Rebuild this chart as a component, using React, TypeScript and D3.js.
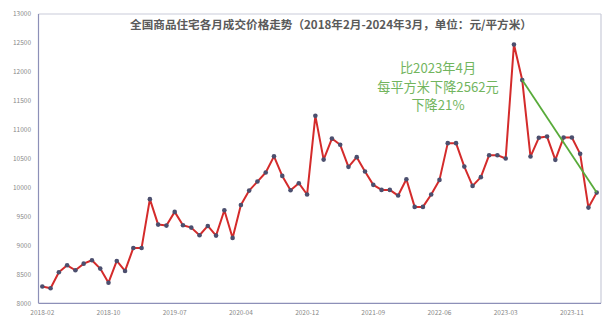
import React from "react";
import * as d3 from "d3";

const months: string[] = (() => {
  const out: string[] = [];
  for (let y = 2018; y <= 2024; y++) {
    for (let m = 2; m <= 12; m++) {
      if (y === 2024 && m > 3) break;
      out.push(`${y}-${String(m).padStart(2, "0")}`);
    }
  }
  return out;
})();

const prices: number[] = [
  8290, 8260, 8536, 8657, 8571, 8685, 8744, 8600, 8356, 8732, 8559,
  8957, 8957, 9800, 9360, 9343, 9580, 9350, 9308, 9176, 9337, 9170,
  9609, 9130, 9700, 9948, 10104, 10260, 10540, 10202, 9955, 10076, 9880,
  11240, 10484, 10848, 10739, 10358, 10526, 10277, 10047, 9960, 9960,
  9862, 10145, 9666, 9666, 9880, 10133, 10768, 10768, 10363, 10029,
  10180, 10560, 10560, 10502, 12474, 11858, 10536, 10860, 10882, 10479,
  10865, 10865, 10583, 9654, 9913,
];

const yTicks: number[] = [8000, 8500, 9000, 9500, 10000, 10500, 11000, 11500, 12000, 12500, 13000];
const xTickIdx: number[] = [0, 8, 16, 24, 32, 40, 48, 56, 64];

const title = "全国商品住宅各月成交价格走势（2018年2月-2024年3月，单位：元/平方米）";
const noteLines = ["比2023年4月", "每平方米下降2562元", "下降21%"];
const trendFrom = 58;
const trendTo = 67;

export default function App() {
  const W = 613, H = 328;
  const left = 38.5, right = 601, top = 14, bottom = 303.3;
  const x = d3.scaleLinear().domain([0, prices.length - 1]).range([42.3, 596.7]);
  const y = d3.scaleLinear().domain([8000, 13000]).range([bottom, top]);
  const line = d3.line<number>().x((_, i) => x(i)).y((d) => y(d));
  const font = "'Noto Sans CJK SC', 'Noto Sans', sans-serif";

  return (
    <svg width={W} height={H} style={{ position: "absolute", left: 0, top: 0, background: "#fff" }}>
      <rect x={0} y={0} width={W} height={H} fill="#fff" />
      <line x1={left} x2={right} y1={top} y2={top} stroke="#c9cbd9" strokeWidth={1.2} />
      <line x1={right} x2={right} y1={top} y2={bottom} stroke="#c9cbd9" strokeWidth={1.2} />
      <line x1={left} x2={left} y1={top} y2={bottom} stroke="#8d90b8" strokeWidth={1.2} />
      <line x1={left} x2={right} y1={bottom} y2={bottom} stroke="#8d90b8" strokeWidth={1.2} />
      {yTicks.map((t) => (
        <text key={t} x={31} y={y(t) + 2.3} fontSize={6.5} fill="#888" textAnchor="end" fontFamily={font}>
          {t}
        </text>
      ))}
      {xTickIdx.map((i) => (
        <text key={i} x={x(i)} y={314.5} fontSize={6.5} fill="#888" textAnchor="middle" fontFamily={font}>
          {months[i]}
        </text>
      ))}
      <text x={331} y={29} fontSize={11.6} fontWeight="bold" fill="#5a5a5a" textAnchor="middle" fontFamily={font}>
        {title}
      </text>
      <path d={line(prices) || ""} fill="none" stroke="#d42b2b" strokeWidth={2} strokeLinejoin="round" />
      {prices.map((v, i) => (
        <circle key={i} cx={x(i)} cy={y(v)} r={2.3} fill="#4c4f6e" />
      ))}
      <line
        x1={x(trendFrom)}
        y1={y(prices[trendFrom])}
        x2={x(trendTo)}
        y2={y(prices[trendTo])}
        stroke="#58ab3a"
        strokeWidth={1.8}
      />
      {noteLines.map((s, i) => (
        <text key={i} x={438} y={73 + i * 18.5} fontSize={13.2} fill="#72b55e" textAnchor="middle" fontFamily={font}>
          {s}
        </text>
      ))}
    </svg>
  );
}
